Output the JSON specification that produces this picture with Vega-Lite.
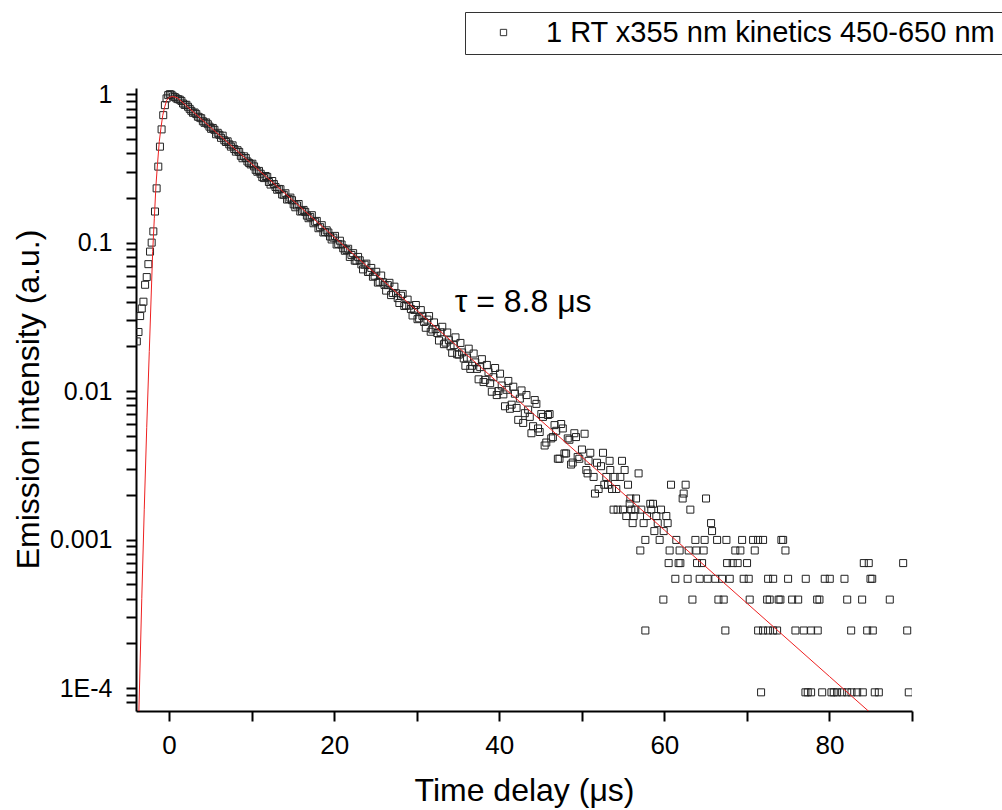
{
  "$schema": "https://vega.github.io/schema/vega-lite/v6.json",
  "autosize": {"type": "none"},
  "width": 776,
  "height": 623,
  "padding": {"left": 136, "top": 88, "right": 90, "bottom": 99},
  "background": "white",
  "config": {"view": {"stroke": null}, "font": "Liberation Sans"},
  "datasets": {
    "kin": [
      {"t":-3.9,"v":0.0216},{"t":-3.7,"v":0.025},{"t":-3.5,"v":0.032},{"t":-3.3,"v":0.036},{"t":-3.1,"v":0.04},{"t":-2.9,"v":0.052},{"t":-2.7,"v":0.0586},{"t":-2.5,"v":0.0716},{"t":-2.3,"v":0.087},{"t":-2.1,"v":0.1},{"t":-1.9,"v":0.119},{"t":-1.7,"v":0.162},{"t":-1.5,"v":0.232},{"t":-1.3,"v":0.325},{"t":-1.1,"v":0.443},{"t":-0.9,"v":0.579},{"t":-0.7,"v":0.722},{"t":-0.5,"v":0.843},{"t":-0.3,"v":0.936},{"t":-0.1,"v":0.985},{"t":0.1,"v":1.0},{"t":0.3,"v":0.99},
      {"t":0.5,"v":0.965},{"t":0.9,"v":0.935},{"t":1.3,"v":0.918},{"t":1.7,"v":0.865},{"t":2.1,"v":0.848},{"t":2.5,"v":0.796},{"t":2.9,"v":0.749},{"t":3.3,"v":0.734},{"t":3.7,"v":0.696},{"t":4.1,"v":0.657},{"t":4.5,"v":0.645},{"t":4.9,"v":0.604},{"t":5.3,"v":0.592},{"t":5.7,"v":0.537},{"t":6.1,"v":0.532},{"t":6.5,"v":0.525},{"t":6.9,"v":0.476},{"t":7.3,"v":0.459},{"t":7.7,"v":0.452},{"t":8.1,"v":0.41},{"t":8.5,"v":0.408},{"t":8.9,"v":0.37},{"t":9.3,"v":0.371},{"t":9.7,"v":0.344},
      {"t":10.1,"v":0.34},{"t":10.5,"v":0.309},{"t":10.9,"v":0.304},{"t":11.3,"v":0.276},{"t":11.7,"v":0.281},{"t":12.1,"v":0.256},{"t":12.5,"v":0.26},{"t":12.9,"v":0.237},{"t":13.3,"v":0.23},{"t":13.7,"v":0.211},{"t":14.1,"v":0.215},{"t":14.5,"v":0.197},{"t":14.9,"v":0.193},{"t":15.3,"v":0.173},{"t":15.7,"v":0.182},{"t":16.1,"v":0.163},{"t":16.5,"v":0.161},{"t":16.9,"v":0.146},{"t":17.3,"v":0.153},{"t":17.7,"v":0.138},{"t":18.1,"v":0.125},{"t":18.5,"v":0.131},{"t":18.9,"v":0.118},{"t":19.3,"v":0.117},{"t":19.7,"v":0.105},
      {"t":20.1,"v":0.111},{"t":20.5,"v":0.098},{"t":20.9,"v":0.0971},{"t":21.3,"v":0.0881},{"t":21.7,"v":0.0909},{"t":22.1,"v":0.0826},{"t":22.5,"v":0.0756},{"t":22.9,"v":0.0801},{"t":23.3,"v":0.0713},{"t":23.7,"v":0.071},{"t":24.1,"v":0.0634},{"t":24.5,"v":0.0675},{"t":24.9,"v":0.0598},{"t":25.3,"v":0.0538},{"t":25.7,"v":0.06},{"t":26.1,"v":0.0519},{"t":26.5,"v":0.0517},{"t":26.9,"v":0.0443},{"t":27.3,"v":0.0505},{"t":27.7,"v":0.0423},{"t":28.1,"v":0.0439},{"t":28.5,"v":0.0374},{"t":28.9,"v":0.0413},{"t":29.3,"v":0.0357},{"t":29.7,"v":0.0352},
      {"t":30.1,"v":0.0305},{"t":30.5,"v":0.0351},{"t":30.9,"v":0.0292},{"t":31.3,"v":0.0303},{"t":31.7,"v":0.0251},{"t":32.1,"v":0.029},{"t":32.5,"v":0.0246},{"t":32.9,"v":0.0249},{"t":33.3,"v":0.0207},{"t":33.7,"v":0.0248},{"t":34.1,"v":0.02},{"t":34.5,"v":0.0204},{"t":34.9,"v":0.0177},{"t":35.3,"v":0.0211},{"t":35.7,"v":0.0166},{"t":36.1,"v":0.0168},{"t":36.5,"v":0.0141},{"t":36.9,"v":0.0179},{"t":37.3,"v":0.0141},{"t":37.7,"v":0.0145},{"t":38.1,"v":0.0115},{"t":38.5,"v":0.015},{"t":38.9,"v":0.0113},{"t":39.3,"v":0.0124},{"t":39.7,"v":0.0094},
      {"t":40.1,"v":0.0131},{"t":40.5,"v":0.0095},{"t":40.9,"v":0.0102},{"t":41.3,"v":0.0076},{"t":41.7,"v":0.0107},{"t":42.1,"v":0.0077},{"t":42.5,"v":0.0089},{"t":42.9,"v":0.0061},{"t":43.3,"v":0.0094},{"t":43.7,"v":0.0067},{"t":44.1,"v":0.0058},{"t":44.5,"v":0.0082},{"t":44.9,"v":0.0053},{"t":45.3,"v":0.0067},{"t":45.7,"v":0.0045},{"t":46.1,"v":0.007},{"t":46.5,"v":0.0049},{"t":46.9,"v":0.0054},{"t":47.3,"v":0.0035},{"t":47.7,"v":0.0056},{"t":48.1,"v":0.0038},{"t":48.5,"v":0.0047},{"t":48.9,"v":0.0033},{"t":49.3,"v":0.0049},{"t":49.7,"v":0.0035},
      {"t":0.7,"v":0.955},{"t":1.1,"v":0.925},{"t":1.5,"v":0.9},{"t":1.9,"v":0.846},{"t":2.3,"v":0.822},{"t":2.7,"v":0.772},{"t":3.1,"v":0.752},{"t":3.5,"v":0.705},{"t":3.9,"v":0.688},{"t":4.3,"v":0.641},{"t":4.7,"v":0.627},{"t":5.1,"v":0.584},{"t":5.5,"v":0.575},{"t":5.9,"v":0.549},{"t":6.3,"v":0.508},{"t":6.7,"v":0.489},{"t":7.1,"v":0.481},{"t":7.5,"v":0.443},{"t":7.9,"v":0.427},{"t":8.3,"v":0.419},{"t":8.7,"v":0.384},{"t":9.1,"v":0.381},{"t":9.5,"v":0.352},{"t":9.9,"v":0.336},
      {"t":10.3,"v":0.326},{"t":10.7,"v":0.3},{"t":11.1,"v":0.291},{"t":11.5,"v":0.272},{"t":11.9,"v":0.277},{"t":12.3,"v":0.246},{"t":12.7,"v":0.248},{"t":13.1,"v":0.227},{"t":13.5,"v":0.229},{"t":13.9,"v":0.21},{"t":14.3,"v":0.195},{"t":14.7,"v":0.201},{"t":15.1,"v":0.181},{"t":15.5,"v":0.178},{"t":15.9,"v":0.162},{"t":16.3,"v":0.166},{"t":16.7,"v":0.152},{"t":17.1,"v":0.149},{"t":17.5,"v":0.135},{"t":17.9,"v":0.14},{"t":18.3,"v":0.127},{"t":18.7,"v":0.117},{"t":19.1,"v":0.121},{"t":19.5,"v":0.11},{"t":19.9,"v":0.108},
      {"t":20.3,"v":0.0971},{"t":20.7,"v":0.103},{"t":21.1,"v":0.0916},{"t":21.5,"v":0.0893},{"t":21.9,"v":0.0801},{"t":22.3,"v":0.0849},{"t":22.7,"v":0.0756},{"t":23.1,"v":0.076},{"t":23.5,"v":0.066},{"t":23.9,"v":0.0722},{"t":24.3,"v":0.0636},{"t":24.7,"v":0.0589},{"t":25.1,"v":0.0636},{"t":25.5,"v":0.0544},{"t":25.9,"v":0.0541},{"t":26.3,"v":0.0475},{"t":26.7,"v":0.0536},{"t":27.1,"v":0.0458},{"t":27.5,"v":0.0456},{"t":27.9,"v":0.0392},{"t":28.3,"v":0.0451},{"t":28.7,"v":0.0378},{"t":29.1,"v":0.0376},{"t":29.5,"v":0.0323},{"t":29.9,"v":0.038},
      {"t":30.3,"v":0.0309},{"t":30.7,"v":0.0321},{"t":31.1,"v":0.0267},{"t":31.5,"v":0.032},{"t":31.9,"v":0.026},{"t":32.3,"v":0.0262},{"t":32.7,"v":0.0219},{"t":33.1,"v":0.0271},{"t":33.5,"v":0.0212},{"t":33.9,"v":0.022},{"t":34.3,"v":0.0181},{"t":34.7,"v":0.023},{"t":35.1,"v":0.0176},{"t":35.5,"v":0.0182},{"t":35.9,"v":0.0148},{"t":36.3,"v":0.0193},{"t":36.7,"v":0.0148},{"t":37.1,"v":0.0156},{"t":37.5,"v":0.012},{"t":37.9,"v":0.0164},{"t":38.3,"v":0.0119},{"t":38.7,"v":0.0134},{"t":39.1,"v":0.0099},{"t":39.5,"v":0.0143},{"t":39.9,"v":0.01},
      {"t":40.3,"v":0.0109},{"t":40.7,"v":0.0079},{"t":41.1,"v":0.0117},{"t":41.5,"v":0.0081},{"t":41.9,"v":0.0096},{"t":42.3,"v":0.0064},{"t":42.7,"v":0.0101},{"t":43.1,"v":0.0071},{"t":43.5,"v":0.0075},{"t":43.9,"v":0.0052},{"t":44.3,"v":0.0087},{"t":44.7,"v":0.0056},{"t":45.1,"v":0.007},{"t":45.5,"v":0.0043},{"t":45.9,"v":0.0069},{"t":46.3,"v":0.0048},{"t":46.7,"v":0.0059},{"t":47.1,"v":0.0035},{"t":47.5,"v":0.006},{"t":47.9,"v":0.0038},{"t":48.3,"v":0.0048},{"t":48.7,"v":0.0032},{"t":49.1,"v":0.0052},{"t":49.5,"v":0.0036},
      {"t":50.34,"v":0.00516},{"t":50.02,"v":0.00404},{"t":51.03,"v":0.00384},{"t":52.57,"v":0.00384},{"t":50.82,"v":0.00339},{"t":51.84,"v":0.00329},{"t":52.33,"v":0.00312},{"t":53.37,"v":0.00339},{"t":54.87,"v":0.00339},{"t":50.55,"v":0.00294},{"t":50.7,"v":0.00279},{"t":51.43,"v":0.00264},{"t":53.45,"v":0.00294},{"t":55.19,"v":0.00294},{"t":56.88,"v":0.00279},{"t":52.97,"v":0.00264},{"t":53.98,"v":0.00264},{"t":54.67,"v":0.00264},{"t":52.73,"v":0.00234},{"t":53.18,"v":0.00234},{"t":55.6,"v":0.00234},{"t":60.81,"v":0.00234},{"t":62.58,"v":0.00234},{"t":52.04,"v":0.00219},{"t":53.66,"v":0.00219},{"t":54.18,"v":0.00219},{"t":51.6,"v":0.00204},{"t":62.34,"v":0.00204},{"t":62.22,"v":0.00189},{"t":65.05,"v":0.00189},{"t":55.88,"v":0.00189},{"t":56.57,"v":0.00189},{"t":58.3,"v":0.00174},{"t":58.63,"v":0.00174},{"t":55.8,"v":0.00174},
      {"t":53.85,"v":0.00159},{"t":54.34,"v":0.00159},{"t":54.99,"v":0.00159},{"t":56.0,"v":0.00159},{"t":56.48,"v":0.00159},{"t":57.21,"v":0.00159},{"t":58.42,"v":0.00159},{"t":59.6,"v":0.00159},{"t":63.15,"v":0.00159},{"t":55.39,"v":0.00144},{"t":56.28,"v":0.00144},{"t":57.9,"v":0.00144},{"t":59.03,"v":0.00144},{"t":60.24,"v":0.00144},{"t":56.16,"v":0.00129},{"t":57.49,"v":0.00129},{"t":59.2,"v":0.00129},{"t":60.4,"v":0.00129},{"t":65.66,"v":0.00129},{"t":58.79,"v":0.00114},{"t":59.92,"v":0.00114},{"t":65.78,"v":0.00114},
      {"t":57.7,"v":0.000994},{"t":59.43,"v":0.000994},{"t":61.45,"v":0.000994},{"t":63.76,"v":0.000994},{"t":64.88,"v":0.000994},{"t":66.39,"v":0.000994},{"t":67.52,"v":0.000994},{"t":69.42,"v":0.000994},{"t":70.75,"v":0.000994},{"t":71.36,"v":0.000994},{"t":71.96,"v":0.000994},{"t":74.18,"v":0.000994},{"t":74.39,"v":0.000994},
      {"t":57.09,"v":0.000844},{"t":60.64,"v":0.000844},{"t":61.85,"v":0.000844},{"t":62.95,"v":0.000844},{"t":63.88,"v":0.000844},{"t":64.76,"v":0.000844},{"t":68.6,"v":0.000844},{"t":69.21,"v":0.000844},{"t":70.95,"v":0.000844},{"t":74.67,"v":0.000844},
      {"t":60.52,"v":0.000694},{"t":61.73,"v":0.000694},{"t":61.94,"v":0.000694},{"t":63.96,"v":0.000694},{"t":64.57,"v":0.000694},{"t":67.6,"v":0.000694},{"t":68.28,"v":0.000694},{"t":68.88,"v":0.000694},{"t":70.02,"v":0.000694},{"t":84.16,"v":0.000694},{"t":84.76,"v":0.000694},{"t":88.93,"v":0.000694},
      {"t":61.33,"v":0.000544},{"t":62.82,"v":0.000544},{"t":64.28,"v":0.000544},{"t":65.25,"v":0.000544},{"t":66.18,"v":0.000544},{"t":66.99,"v":0.000544},{"t":67.92,"v":0.000544},{"t":69.61,"v":0.000544},{"t":70.22,"v":0.000544},{"t":72.57,"v":0.000544},{"t":73.18,"v":0.000544},{"t":74.99,"v":0.000544},{"t":77.13,"v":0.000544},{"t":79.43,"v":0.000544},{"t":80.04,"v":0.000544},{"t":81.82,"v":0.000544},{"t":84.97,"v":0.000544},{"t":85.18,"v":0.000544},
      {"t":59.88,"v":0.000394},{"t":63.4,"v":0.000394},{"t":66.55,"v":0.000394},{"t":67.19,"v":0.000394},{"t":70.34,"v":0.000394},{"t":72.45,"v":0.000394},{"t":72.76,"v":0.000394},{"t":73.85,"v":0.000394},{"t":74.06,"v":0.000394},{"t":75.48,"v":0.000394},{"t":76.21,"v":0.000394},{"t":78.51,"v":0.000394},{"t":78.79,"v":0.000394},{"t":82.15,"v":0.000394},{"t":83.96,"v":0.000394},{"t":87.31,"v":0.000394},
      {"t":57.7,"v":0.000244},{"t":67.39,"v":0.000244},{"t":71.36,"v":0.000244},{"t":71.96,"v":0.000244},{"t":72.57,"v":0.000244},{"t":73.18,"v":0.000244},{"t":73.66,"v":0.000244},{"t":75.88,"v":0.000244},{"t":76.88,"v":0.000244},{"t":77.78,"v":0.000244},{"t":78.58,"v":0.000244},{"t":82.63,"v":0.000244},{"t":84.57,"v":0.000244},{"t":85.25,"v":0.000244},{"t":89.42,"v":0.000244},
      {"t":71.72,"v":0.0000935},{"t":77.09,"v":0.0000935},{"t":77.37,"v":0.0000935},{"t":77.78,"v":0.0000935},{"t":79.12,"v":0.0000935},{"t":80.24,"v":0.0000935},{"t":80.52,"v":0.0000935},{"t":80.93,"v":0.0000935},{"t":81.54,"v":0.0000935},{"t":82.15,"v":0.0000935},{"t":82.67,"v":0.0000935},{"t":83.36,"v":0.0000935},{"t":84.04,"v":0.0000935},{"t":85.49,"v":0.0000935},{"t":85.98,"v":0.0000935},{"t":89.61,"v":0.0000935}
    ],
    "fit": [
      {"t":-3.8,"v":0.00003},{"t":-3.65,"v":0.00007},{"t":-3.3,"v":0.0004},{"t":-3.0,"v":0.0016},{"t":-2.7,"v":0.0057},{"t":-2.39,"v":0.0185},{"t":-2.2,"v":0.038},{"t":-1.98,"v":0.087},{"t":-1.78,"v":0.146},{"t":-1.58,"v":0.244},{"t":-1.38,"v":0.347},{"t":-1.18,"v":0.478},{"t":-0.97,"v":0.596},{"t":-0.76,"v":0.72},{"t":-0.52,"v":0.822},{"t":-0.28,"v":0.91},{"t":0.0,"v":0.95},{"t":0.45,"v":0.965},{"t":1.0,"v":0.946},{"t":2,"v":0.8445},{"t":5,"v":0.6},{"t":10,"v":0.34},{"t":20,"v":0.109},{"t":40,"v":0.01123},{"t":60,"v":0.00116},{"t":80,"v":0.0001196},{"t":90,"v":0.0000384}
    ],
    "note": [{"t": 34.6, "v": 0.04, "label": "τ = 8.8 μs"}],
    "key": [{"t": 0.1, "v": 1.0, "series": "1 RT x355 nm kinetics 450-650 nm"}]
  },
  "encoding": {
    "x": {
      "field": "t", "type": "quantitative",
      "scale": {"domain": [-4, 90], "nice": false, "zero": false},
      "axis": {
        "values": [0, 10, 20, 30, 40, 50, 60, 70, 80, 90],
        "labelExpr": "datum.value % 20 === 0 ? datum.label : ''",
        "tickSize": 10,
        "tickWidth": 2, "tickColor": "black",
        "domainColor": "black", "domainWidth": 2,
        "grid": false,
        "labelFont": "Liberation Sans", "labelFontSize": 26, "labelColor": "black",
        "labelBaseline": "alphabetic", "labelPadding": 32,
        "labelFlush": false, "labelOverlap": false,
        "title": "Time delay (μs)",
        "titleFont": "Liberation Sans", "titleFontSize": 32, "titleFontWeight": "normal", "titleColor": "black",
        "titleY": 89, "titleBaseline": "alphabetic",
        "encode": {"ticks": {"update": {"y2": {"signal": "datum.value % 20 === 0 ? 10 : 5"}}}}
      }
    },
    "y": {
      "field": "v", "type": "quantitative",
      "scale": {"type": "log", "domain": [0.00007, 1.1], "nice": false},
      "axis": {
        "values": [0.00008, 0.00009, 0.0001, 0.0002, 0.0003, 0.0004, 0.0005, 0.0006, 0.0007, 0.0008, 0.0009, 0.001, 0.002, 0.003, 0.004, 0.005, 0.006, 0.007, 0.008, 0.009, 0.01, 0.02, 0.03, 0.04, 0.05, 0.06, 0.07, 0.08, 0.09, 0.1, 0.2, 0.3, 0.4, 0.5, 0.6, 0.7, 0.8, 0.9, 1],
        "labelExpr": "datum.value > 0.95 ? '1' : (datum.value > 0.095 && datum.value < 0.105) ? '0.1' : (datum.value > 0.0095 && datum.value < 0.0105) ? '0.01' : (datum.value > 0.00095 && datum.value < 0.00105) ? '0.001' : (datum.value > 0.000095 && datum.value < 0.000105) ? '1E-4' : ''",
        "tickSize": 10,
        "tickWidth": 2, "tickColor": "black",
        "domainColor": "black", "domainWidth": 2,
        "grid": false,
        "labelFont": "Liberation Sans", "labelFontSize": 25, "labelColor": "black",
        "labelBaseline": "middle", "labelPadding": 14,
        "labelFlush": false, "labelOverlap": false,
        "title": "Emission intensity (a.u.)",
        "titleFont": "Liberation Sans", "titleFontSize": 32, "titleFontWeight": "normal", "titleColor": "black",
        "titleAngle": 270, "titleX": -98, "titleY": 311, "titleBaseline": "alphabetic", "titleAlign": "center",
        "encode": {"ticks": {"update": {"x2": {"signal": "abs(log(datum.value) / LN10 - round(log(datum.value) / LN10)) < 0.001 ? -10 : -5"}}}}
      }
    }
  },
  "layer": [
    {
      "data": {"name": "kin"},
      "mark": {"type": "point", "shape": "square", "filled": false, "size": 49, "stroke": "#222", "strokeWidth": 1, "opacity": 1, "clip": true}
    },
    {
      "data": {"name": "key"},
      "mark": {"type": "point", "filled": false, "size": 49, "stroke": "#222", "strokeWidth": 1, "opacity": 0},
      "encoding": {
        "shape": {
          "field": "series", "type": "nominal",
          "scale": {"range": ["square"]},
          "legend": {
            "title": null, "orient": "none", "legendX": 329, "legendY": -76,
            "padding": 6, "fillColor": "white", "strokeColor": "#333",
            "labelFont": "Liberation Sans", "labelFontSize": 29, "labelColor": "black", "labelLimit": 0,
            "symbolSize": 40, "symbolStrokeColor": "#333", "symbolStrokeWidth": 1, "symbolFillColor": "white", "symbolOpacity": 1,
            "symbolOffset": 18, "labelOffset": 28
          }
        }
      }
    },
    {
      "data": {"name": "fit"},
      "mark": {"type": "line", "color": "#ee2020", "strokeWidth": 1, "clip": true},
      "encoding": {}
    },
    {
      "data": {"name": "note"},
      "mark": {"type": "text", "align": "left", "baseline": "middle", "font": "Liberation Sans", "fontSize": 32, "color": "black"},
      "encoding": {"text": {"field": "label"}}
    }
  ]
}
